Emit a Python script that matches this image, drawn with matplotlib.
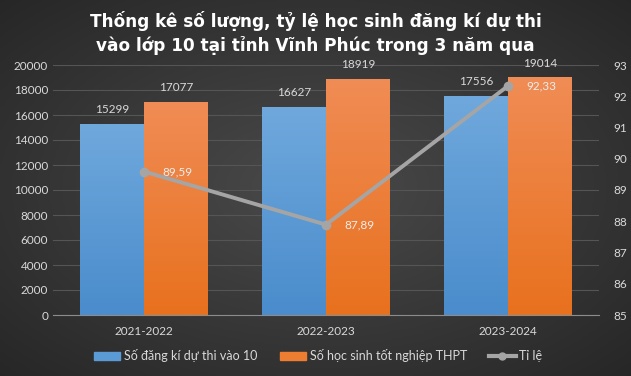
import numpy as np
import matplotlib.pyplot as plt
from matplotlib.lines import Line2D
from matplotlib.patches import Patch
from matplotlib.colors import LinearSegmentedColormap

years = ['2021-2022', '2022-2023', '2023-2024']
dang_ki = [15299, 16627, 17556]
tot_nghiep = [17077, 18919, 19014]
ti_le = [89.59, 87.89, 92.33]
ti_le_text = ['89,59', '87,89', '92,33']

title = 'Thống kê số lượng, tỷ lệ học sinh đăng kí dự thi\nvào lớp 10 tại tỉnh Vĩnh Phúc trong 3 năm qua'

plt.rcParams['font.family'] = ['Lato', 'DejaVu Sans']
txt_col = '#d9d9d9'
grid_col = '#555555'

fig = plt.figure(figsize=(6.31, 3.76), dpi=100)

# dark radial background
bg = fig.add_axes([0, 0, 1, 1], zorder=-10)
yy, xx = np.mgrid[-1:1:200j, -1:1:300j]
r = np.sqrt(xx**2 + yy**2)
bg.imshow(r, cmap=LinearSegmentedColormap.from_list('bg', ['#4a4a4a', '#262626']),
          extent=[0, 1, 0, 1], aspect='auto', vmin=0, vmax=1.45)
bg.axis('off')

ax = fig.add_axes([53/631, 1 - 315/376, 546/631, 250/376])
ax.set_facecolor('none')
x = np.arange(len(years))
w = 0.35

def grad_bars(ax, xs, vals, c_top, c_bot):
    cmap = LinearSegmentedColormap.from_list('g', [c_bot, c_top])
    bars = ax.bar(xs, vals, w, color='none', zorder=2)
    for b in bars:
        x0 = b.get_x()
        im = ax.imshow(np.linspace(0, 1, 100).reshape(-1, 1), cmap=cmap, origin='lower',
                       extent=[x0, x0 + b.get_width(), 0, b.get_height()], aspect='auto', zorder=2)
        im.set_clip_path(b)
    return bars

grad_bars(ax, x - w/2, dang_ki, '#6fa8dc', '#4a8ccc')
grad_bars(ax, x + w/2, tot_nghiep, '#f08c55', '#e8711e')
for xs, vals in [(x - w/2, dang_ki), (x + w/2, tot_nghiep)]:
    for xi, v in zip(xs, vals):
        ax.text(xi, v + 700, str(v), ha='center', va='bottom', color=txt_col, fontsize=8.5)

ax.set_xlim(-0.5, 2.5)
ax.set_ylim(0, 20000)
ax.set_yticks(np.arange(0, 20001, 2000))
ax.set_xticks(x)
ax.set_xticklabels(years)
ax.grid(axis='y', color=grid_col, linewidth=0.8, zorder=0)
ax.set_axisbelow(True)
for s in ['top', 'right', 'left']:
    ax.spines[s].set_visible(False)
ax.spines['bottom'].set_color('#8c8c8c')
ax.tick_params(axis='both', length=0, colors=txt_col, labelsize=8.5)
ax.tick_params(axis='x', pad=8)

ax2 = ax.twinx()
ax2.plot(x, ti_le, color='#a5a5a5', linewidth=2.8, marker='o', markersize=6, zorder=5)
for xi, v, t in zip(x, ti_le, ti_le_text):
    ax2.text(xi + 0.1, v, t, ha='left', va='center', color='#eeeeee', fontsize=8.5)
ax2.set_ylim(85, 93)
ax2.set_yticks(np.arange(85, 94, 1))
for s in ax2.spines.values():
    s.set_visible(False)
ax2.tick_params(axis='y', length=0, colors=txt_col, labelsize=8.5, pad=10)

handles = [Patch(color='#5b9bd5'), Patch(color='#ed7d31'),
           Line2D([0], [0], color='#a5a5a5', linewidth=3, marker='o', markersize=5)]
labels = ['Số đăng kí dự thi vào 10', 'Số học sinh tốt nghiệp THPT', 'Tỉ lệ']
fig.legend(handles, labels, loc='center', bbox_to_anchor=(318/631, 1 - 356/376), ncol=3, frameon=False,
           fontsize=9, labelcolor=txt_col, handlelength=2.1, handleheight=0.6, columnspacing=1.8,
           handletextpad=0.3)

fig.text(0.5, 1 - 33/376, title, ha='center', va='center', color='white', fontsize=12.2,
         fontweight='bold', linespacing=1.3, family=['DejaVu Sans'])

fig.savefig('out.png', dpi=100)
